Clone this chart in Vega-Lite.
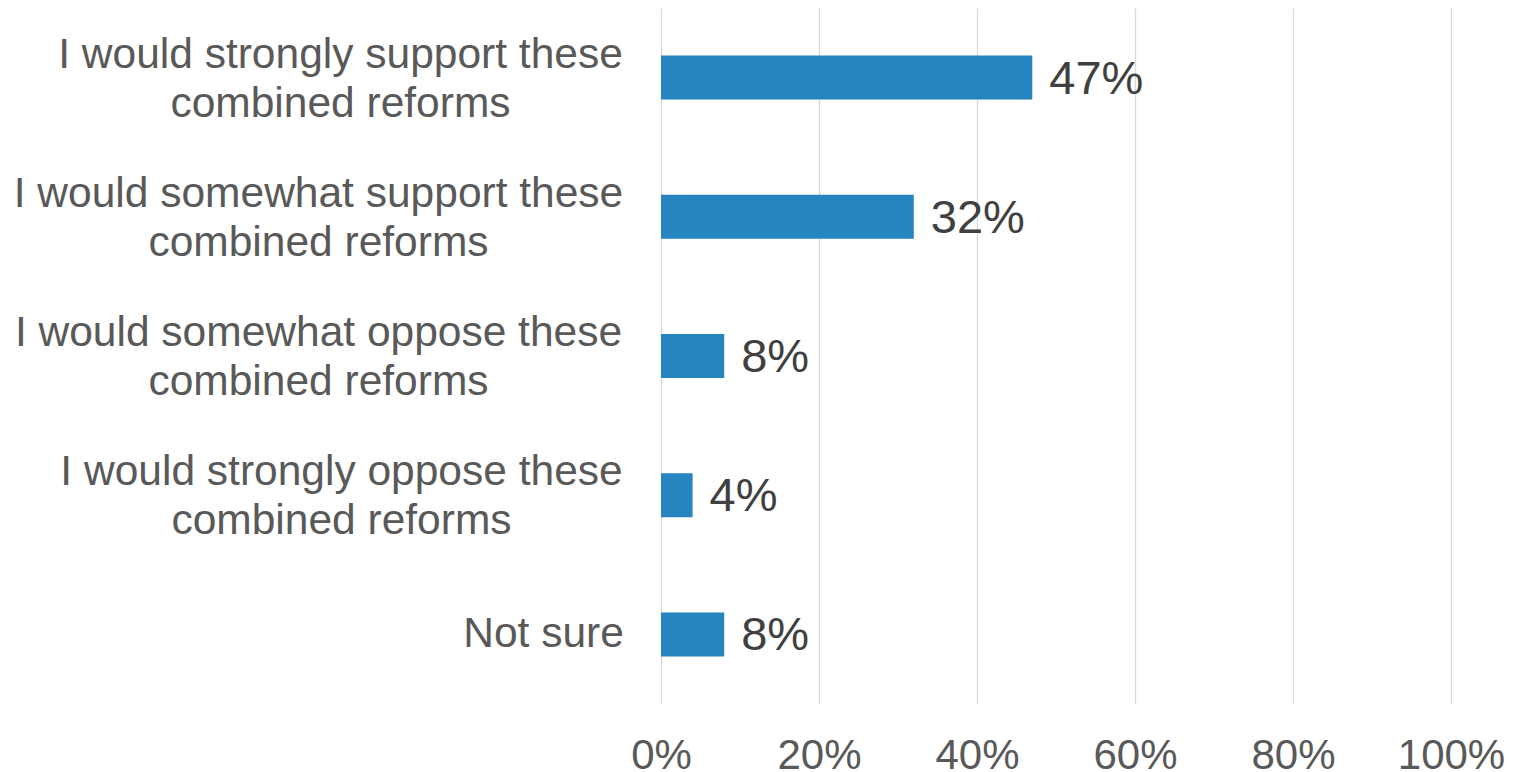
{
  "$schema": "https://vega.github.io/schema/vega-lite/v6.json",
  "autosize": "none",
  "width": 790,
  "height": 696,
  "padding": {"left": 661, "top": 8, "right": 63, "bottom": 68},
  "background": "white",
  "config": {
    "view": {"stroke": null},
    "font": "Liberation Sans"
  },
  "data": {
    "values": [
      {"category": "I would strongly support these|combined reforms", "value": 0.47},
      {"category": "I would somewhat support these|combined reforms", "value": 0.32},
      {"category": "I would somewhat oppose these|combined reforms", "value": 0.08},
      {"category": "I would strongly oppose these|combined reforms", "value": 0.04},
      {"category": "Not sure", "value": 0.08}
    ]
  },
  "encoding": {
    "y": {
      "field": "category",
      "type": "nominal",
      "sort": null,
      "scale": {"paddingInner": 0.684, "paddingOuter": 0.342},
      "axis": {
        "title": null,
        "domain": false,
        "ticks": false,
        "labelPadding": {
          "condition": [
            {"test": "datum.value == 'Not sure'", "value": 118},
            {"test": "indexof(datum.value, 'somewhat') >= 0", "value": 343},
            {"test": "indexof(datum.value, 'oppose') >= 0", "value": 320}
          ],
          "value": 321
        },
        "labelOffset": {
          "condition": {"test": "datum.value == 'Not sure'", "value": 0},
          "value": -23
        },
        "labelFontSize": 42.5,
        "labelColor": "#595959",
        "labelAlign": "center",
        "labelBaseline": "middle",
        "labelLimit": 0,
        "labelLineHeight": 49,
        "labelExpr": "split(datum.label, '|')"
      }
    },
    "x": {
      "field": "value",
      "type": "quantitative",
      "scale": {"domain": [0, 1], "nice": false},
      "axis": {
        "title": null,
        "values": [0, 0.2, 0.4, 0.6, 0.8, 1],
        "format": ".0%",
        "domain": false,
        "ticks": false,
        "grid": true,
        "gridColor": "#D9D9D9",
        "gridWidth": 1.3,
        "labelFontSize": 42,
        "labelColor": "#595959",
        "labelPadding": 31,
        "labelFlush": false,
        "labelOverlap": false
      }
    }
  },
  "layer": [
    {"mark": {"type": "bar", "color": "#2684C0"}},
    {
      "mark": {"type": "text", "align": "left", "baseline": "middle", "dx": 17, "dy": 2, "fontSize": 47, "color": "#404040"},
      "encoding": {"text": {"field": "value", "type": "quantitative", "format": ".0%"}}
    }
  ]
}
